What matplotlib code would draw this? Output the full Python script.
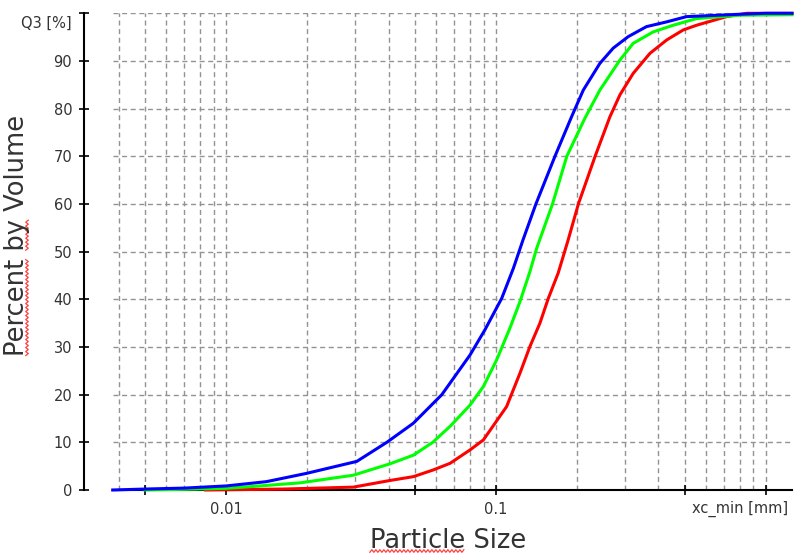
import numpy as np
import matplotlib
matplotlib.use("Agg")
import matplotlib.pyplot as plt
from matplotlib.lines import Line2D
from matplotlib.ticker import LogLocator, NullFormatter

# particle size [mm] and cumulative volume Q3 [%]
size_red = [0.0084, 0.0163, 0.0296, 0.0405, 0.0494, 0.0585, 0.0676, 0.0801, 0.0898,
            0.1095, 0.1227, 0.1336, 0.1455, 0.1563, 0.170, 0.185, 0.202, 0.233, 0.2644,
            0.288, 0.3225, 0.372, 0.429, 0.494, 0.554, 0.715, 0.85, 1.25]
q3_red = [0, 0.2, 0.6, 2.0, 2.8, 4.2, 5.6, 8.4, 10.5, 17.5, 24.5, 30.1, 35, 40.2, 45.5,
          52.4, 60, 70, 78.3, 82.9, 87.4, 91.6, 94.4, 96.5, 97.5, 99.3, 100, 100]

size_green = [0.005, 0.007, 0.01, 0.0123, 0.0188, 0.0296, 0.0405, 0.0494, 0.0583, 0.068,
              0.0801, 0.0898, 0.1006, 0.1127, 0.1227, 0.1336, 0.1415, 0.162, 0.183,
              0.2136, 0.2427, 0.288, 0.3225, 0.3825, 0.454, 0.554, 0.8, 1.25]
q3_green = [0, 0.15, 0.35, 0.7, 1.5, 3.1, 5.5, 7.3, 10, 13.5, 17.8, 21.7, 27.3, 34,
            39.5, 45.8, 50.7, 60, 70, 78, 83.9, 90.2, 93.7, 96.1, 97.5, 98.9, 99.6, 99.7]

size_blue = [0.0038, 0.005, 0.007, 0.01, 0.0141, 0.0199, 0.0305, 0.0394, 0.0494, 0.063,
             0.0801, 0.091, 0.105, 0.116, 0.126, 0.1406, 0.1654, 0.1906, 0.2107, 0.2427,
             0.272, 0.309, 0.361, 0.429, 0.508, 0.8, 1.0, 1.25]
q3_blue = [0, 0.2, 0.4, 0.85, 1.75, 3.5, 6.0, 10, 14, 20, 28.3, 33.6, 40.2, 46.5, 52.5,
           60, 70, 78.3, 83.9, 89.5, 92.7, 95.1, 97.2, 98.2, 99.3, 99.8, 100, 100]

x_major = [0.005, 0.01, 0.05, 0.1, 0.5, 1.0]
x_major_labels = ["", "0.01", "", "0.1", "", ""]
y_ticks = list(range(0, 101, 10))
y_labels = [str(v) for v in y_ticks[:-1]] + [""]

plt.rcParams["lines.scale_dashes"] = False
plt.rcParams["font.family"] = ["DejaVu Sans"]

W, H = 795, 559
fig = plt.figure(figsize=(W / 100, H / 100), dpi=100)
ax = fig.add_axes([113 / W, (H - 490) / H, 679 / W, 476.7 / H])

for xs, ys, col in [(size_red, q3_red, "#ff0000"),
                    (size_green, q3_green, "#00ff00"),
                    (size_blue, q3_blue, "#0000ff")]:
    ax.plot(xs, ys, color=col, lw=2.2, clip_on=False, zorder=3, solid_joinstyle="round")

ax.set_xscale("log")
ax.set_xlim(0.00381, 1.25)
ax.set_ylim(0, 100)

ax.set_xticks(x_major)
ax.set_xticklabels(x_major_labels)
ax.xaxis.set_minor_locator(LogLocator(base=10, subs=np.arange(1, 10), numticks=50))
ax.xaxis.set_minor_formatter(NullFormatter())
ax.set_yticks(y_ticks)
ax.set_yticklabels(y_labels)

grid_style = dict(color="#939393", lw=1.0, ls=(0, (3.6, 2.6)))
ax.grid(which="both", axis="x", **grid_style)
ax.grid(which="major", axis="y", **grid_style)
ax.set_axisbelow(True)

ax.tick_params(which="major", direction="inout", length=7, width=1.2, color="black",
               labelcolor="#333333", labelsize=10.5, pad=5)
ax.tick_params(which="minor", length=0)

for side in ["top", "right"]:
    ax.spines[side].set_visible(False)
ax.spines["left"].set_position(("outward", 29 * 0.72))
ax.spines["left"].set_bounds(0, 100)
ax.spines["left"].set_linewidth(1.5)
ax.spines["bottom"].set_linewidth(1.5)

# unit captions in place of the end tick labels
ax.text(1.0 - 4 / 679, -19 / 476.7, "xc_min [mm]", transform=ax.transAxes,
        ha="right", va="center", fontsize=10.5, color="#333333")
ax.text(-41 / 679, 1.0 - 2 / 476.7, "Q3 [%]", transform=ax.transAxes,
        ha="right", va="top", fontsize=10.5, color="#333333")

label_size = 18.5
xlab = fig.text(448 / W, 1 - 541 / H, "Particle Size", ha="center", va="center",
                fontsize=label_size, color="#333333")
ylab = fig.text(17 / W, 1 - 235 / H, "Percent by Volume", ha="center", va="center",
                rotation=90, fontsize=label_size, color="#333333")

# red spell-check squiggles under the label words
fig.canvas.draw()
rend = fig.canvas.get_renderer()


def word_width(s):
    t = fig.text(0, 0, s, fontsize=label_size)
    w = t.get_window_extent(rend).width
    t.remove()
    return w


def squiggle(a0, a1, b, vertical=False):
    a = np.arange(a0, a1, 2.0)
    off = np.where(np.arange(len(a)) % 2 == 0, -1.3, 1.3)
    pts = np.column_stack([b + off, a]) if vertical else np.column_stack([a, b + off])
    pts = fig.transFigure.inverted().transform(pts)
    fig.add_artist(Line2D(pts[:, 0], pts[:, 1], color="#ff4040", lw=0.9,
                          transform=fig.transFigure))


bx = xlab.get_window_extent(rend)
squiggle(bx.x0, bx.x0 + word_width("Particle"), bx.y0 + 3)

by = ylab.get_window_extent(rend)
squiggle(by.y0, by.y0 + word_width("Percent"), by.x1 - 3, vertical=True)
squiggle(by.y0 + word_width("Percent "), by.y0 + word_width("Percent by"), by.x1 - 3,
         vertical=True)

fig.savefig("out.png", dpi=100)
